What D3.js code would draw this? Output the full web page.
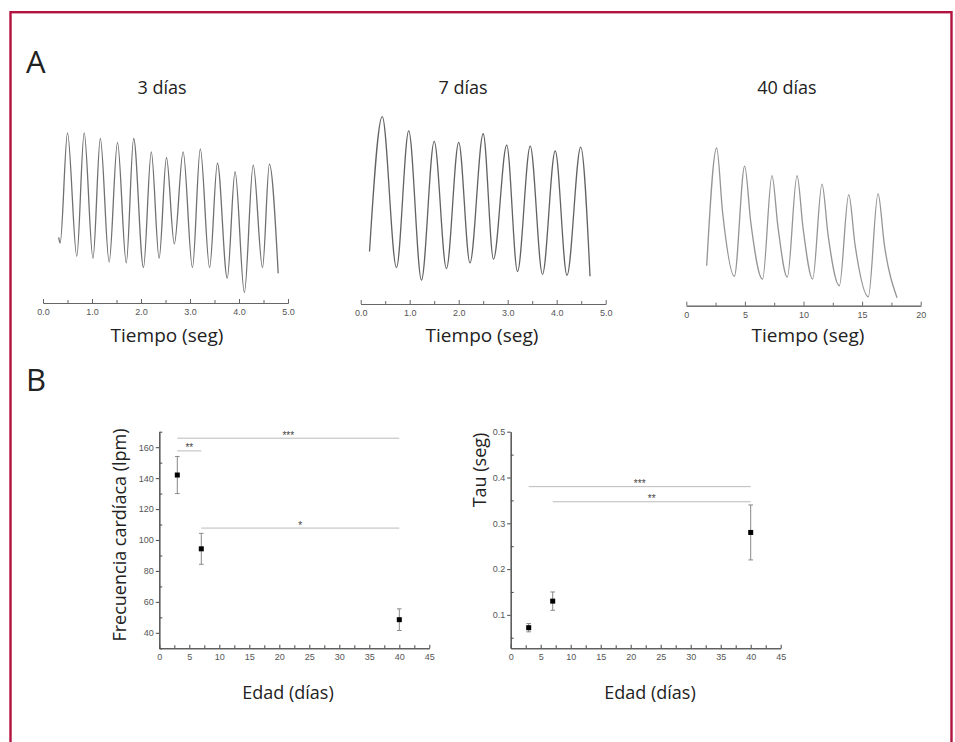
<!DOCTYPE html>
<html>
<head>
<meta charset="utf-8">
<script src="https://cdn.jsdelivr.net/npm/d3@7/dist/d3.min.js"></script>
<style>
  body { margin: 0; background: #fff; }
  svg text { font-family: 'Open Sans', sans-serif; }
  .tick text { font-family: 'Liberation Sans', Arial, sans-serif; }
</style>
</head>
<body>
<div id="chart"></div>
<script>
(function() {
  'use strict';

  // --- panel A: pressure traces (time in s, amplitude in arbitrary units) ---
  var traceTitles = ['3 días', '7 días', '40 días'];
  var traceTicks = [[0, 1, 2, 3, 4, 5], [0, 1, 2, 3, 4, 5], [0, 5, 10, 15, 20]];

  var time3 = [0.32, 0.35, 0.50, 0.69, 0.84, 1.02, 1.17, 1.35, 1.52, 1.70, 1.85, 2.05, 2.21, 2.37,
    2.52, 2.68, 2.86, 3.05, 3.21, 3.40, 3.56, 3.76, 3.92, 4.11, 4.29, 4.48, 4.62, 4.80];
  var amp3 = [33, 30, 88, 23, 88, 22, 85, 20, 83, 19.5, 85, 17, 78, 22,
    75, 29.5, 78, 17, 79.5, 17, 72, 11.5, 67.5, 4, 71, 17, 71.5, 14];

  var time7 = [0.18, 0.44, 0.73, 0.98, 1.24, 1.50, 1.75, 2.00, 2.23, 2.50, 2.71, 2.98, 3.20,
    3.46, 3.71, 3.97, 4.21, 4.49, 4.68];
  var amp7 = [25.5, 96.5, 17, 89, 10.5, 83.5, 16.5, 83, 19.5, 87.5, 21.5, 81.5, 15,
    81, 13.5, 78.5, 13, 80.5, 12.5];

  var time40 = [1.74, 2.59, 3.10, 4.10, 4.98, 5.50, 6.51, 7.31, 7.82, 8.62,
    9.45, 9.96, 10.78, 11.58, 12.10, 13.06, 13.86, 14.40, 15.53,
    16.36, 16.90, 17.98];
  var amp40 = [18, 80, 46, 12.5, 70.5, 41, 11, 65.5, 38.5, 12,
    65.5, 38, 11, 61, 34, 7.5, 55.5, 29, 1.7,
    56, 29, 1.2];

  // --- panel B: heart rate and tau by age ---
  var ages = [3, 7, 40];
  var freqMean = [142, 94.3, 48.5];
  var freqErr = [12, 10, 7];
  var tauMean = [0.072, 0.13, 0.28];
  var tauErr = [0.009, 0.02, 0.06];
  var ageTicks = [0, 5, 10, 15, 20, 25, 30, 35, 40, 45];
  var freqTicks = [40, 60, 80, 100, 120, 140, 160];
  var tauTicks = [0.1, 0.2, 0.3, 0.4, 0.5];

  // significance bars: from age, to age, level, label
  var freqSigFrom = [3, 3, 7];
  var freqSigTo = [40, 7, 40];
  var freqSigLevel = [165.8, 157.6, 107.7];
  var freqSigLabel = ['***', '**', '*'];
  var tauSigFrom = [3, 7];
  var tauSigTo = [40, 40];
  var tauSigLevel = [0.380, 0.347];
  var tauSigLabel = ['***', '**'];

  var width = 955, height = 742;

  var svg = d3.select('#chart')
    .append('svg')
    .attr('width', width)
    .attr('height', height);

  // frame
  svg.append('rect')
    .attr('x', 10.5)
    .attr('y', 12.2)
    .attr('width', 941)
    .attr('height', 780)
    .attr('fill', 'none')
    .attr('stroke', '#b3123e')
    .attr('stroke-width', 2.4);

  svg.append('text').attr('x', 26).attr('y', 72.7)
    .style('font-size', '31px').attr('fill', '#222').text('A');
  svg.append('text').attr('x', 26).attr('y', 391)
    .style('font-size', '31px').attr('fill', '#222').text('B');

  function midTicks(ticks) {
    var out = [];
    for (var i = 0; i < ticks.length - 1; i++) {
      out.push((ticks[i] + ticks[i + 1]) / 2);
    }
    return out;
  }

  // ---------- traces ----------
  var traceLayout = [
    {x0: 43, x1: 288, axisY: 303, titleX: 162, labelX: 167, color: '#707070', fmt: d3.format('.1f')},
    {x0: 360.7, x1: 605.7, axisY: 304, titleX: 463, labelX: 482, color: '#626262', fmt: d3.format('.1f')},
    {x0: 686.3, x1: 920.7, axisY: 305.7, titleX: 787, labelX: 808, color: '#959595', fmt: d3.format('d')}
  ];
  var traceData = [
    d3.zip(time3, amp3),
    d3.zip(time7, amp7),
    d3.zip(time40, amp40)
  ];

  var amp = d3.scaleLinear().domain([0, 100]).range([300, 110]);

  traceLayout.forEach(function(p, i) {
    var ticks = traceTicks[i];
    var x = d3.scaleLinear()
      .domain([ticks[0], ticks[ticks.length - 1]])
      .range([p.x0, p.x1]);

    var line = d3.line()
      .x(function(d) { return x(d[0]); })
      .y(function(d) { return amp(d[1]); })
      .curve(d3.curveMonotoneX);

    svg.append('path')
      .datum(traceData[i])
      .attr('fill', 'none')
      .attr('stroke', p.color)
      .attr('stroke-width', 1.3)
      .attr('d', line);

    var g = svg.append('g')
      .attr('transform', 'translate(0,' + p.axisY + ')');
    g.append('g')
      .call(d3.axisBottom(x).tickValues(midTicks(ticks)).tickSize(-3).tickSizeOuter(0).tickFormat(''));
    g.append('g')
      .call(d3.axisBottom(x).tickValues(ticks).tickSize(-4).tickSizeOuter(0).tickPadding(6).tickFormat(p.fmt));
    g.selectAll('path, line').attr('stroke', '#666');
    g.selectAll('text').attr('fill', '#555').style('font-size', '9px');

    svg.append('text')
      .attr('x', p.titleX)
      .attr('y', 94)
      .attr('text-anchor', 'middle')
      .attr('fill', '#222')
      .style('font-size', '18px')
      .text(traceTitles[i]);

    svg.append('text')
      .attr('x', p.labelX)
      .attr('y', 341.7)
      .attr('text-anchor', 'middle')
      .attr('fill', '#222')
      .style('font-size', '19px')
      .text('Tiempo (seg)');
  });

  // ---------- scatter panels ----------
  var scatterLayout = [
    {x0: 159.3, x1: 429.3, y0: 648.3, y1: 431.7, domain: [30, 170], ticks: freqTicks,
      fmt: d3.format('d'), title: 'Frecuencia cardíaca (lpm)', titleX: 126, titleY: 535, xLabelX: 288,
      mean: freqMean, err: freqErr, sigFrom: freqSigFrom, sigTo: freqSigTo, sigLevel: freqSigLevel, sigLabel: freqSigLabel},
    {x0: 510.7, x1: 780.7, y0: 648.3, y1: 431.7, domain: [0.027, 0.5], ticks: tauTicks,
      fmt: d3.format('.1f'), title: 'Tau (seg)', titleX: 486, titleY: 470, xLabelX: 650,
      mean: tauMean, err: tauErr, sigFrom: tauSigFrom, sigTo: tauSigTo, sigLevel: tauSigLevel, sigLabel: tauSigLabel}
  ];

  scatterLayout.forEach(function(p) {
    var x = d3.scaleLinear().domain([0, 45]).range([p.x0, p.x1]);
    var y = d3.scaleLinear().domain(p.domain).range([p.y0, p.y1]);

    var step = p.ticks[1] - p.ticks[0];
    var yMinor = d3.range(p.ticks[0] - step / 2, p.domain[1] + 1e-9, step)
      .filter(function(v) { return v >= p.domain[0]; });

    var gx = svg.append('g').attr('transform', 'translate(0,' + p.y0 + ')');
    gx.append('g')
      .call(d3.axisBottom(x).tickValues(midTicks(ageTicks)).tickSize(-3).tickSizeOuter(0).tickFormat(''));
    gx.append('g')
      .call(d3.axisBottom(x).tickValues(ageTicks).tickSize(-3.5).tickSizeOuter(0).tickPadding(5));

    var gy = svg.append('g').attr('transform', 'translate(' + p.x0 + ',0)');
    gy.append('g')
      .call(d3.axisLeft(y).tickValues(yMinor).tickSize(-3).tickSizeOuter(0).tickFormat(''));
    gy.append('g')
      .call(d3.axisLeft(y).tickValues(p.ticks).tickSize(3.5).tickSizeOuter(0).tickPadding(2).tickFormat(p.fmt));

    [gx, gy].forEach(function(g) {
      g.selectAll('path, line').attr('stroke', '#555').attr('stroke-width', 1.1);
      g.selectAll('text').attr('fill', '#555').style('font-size', '9px');
    });

    // significance bars
    p.sigLevel.forEach(function(lv, k) {
      svg.append('line')
        .attr('x1', x(p.sigFrom[k]))
        .attr('x2', x(p.sigTo[k]))
        .attr('y1', y(lv))
        .attr('y2', y(lv))
        .attr('stroke', '#bbb')
        .attr('stroke-width', 1);
      svg.append('text')
        .attr('x', x((p.sigFrom[k] + p.sigTo[k]) / 2))
        .attr('y', y(lv) + 0.5)
        .attr('text-anchor', 'middle')
        .attr('fill', '#444')
        .style('font-family', "'Liberation Sans', Arial, sans-serif")
        .style('font-size', '10px')
        .text(p.sigLabel[k]);
    });

    // error bars
    var eb = svg.append('g').attr('stroke', '#888').attr('stroke-width', 1);
    ages.forEach(function(a, k) {
      var cx = x(a), top = y(p.mean[k] + p.err[k]), bot = y(p.mean[k] - p.err[k]);
      eb.append('line').attr('x1', cx).attr('x2', cx).attr('y1', top).attr('y2', bot);
      eb.append('line').attr('x1', cx - 2.3).attr('x2', cx + 2.3).attr('y1', top).attr('y2', top);
      eb.append('line').attr('x1', cx - 2.3).attr('x2', cx + 2.3).attr('y1', bot).attr('y2', bot);
    });

    svg.selectAll(null)
      .data(ages)
      .enter()
      .append('rect')
      .attr('x', function(d) { return x(d) - 2.5; })
      .attr('y', function(d, k) { return y(p.mean[k]) - 2.5; })
      .attr('width', 5)
      .attr('height', 5)
      .attr('fill', '#000');

    svg.append('text')
      .attr('x', p.xLabelX)
      .attr('y', 699)
      .attr('text-anchor', 'middle')
      .attr('fill', '#222')
      .style('font-size', '18px')
      .text('Edad (días)');

    svg.append('text')
      .attr('transform', 'translate(' + p.titleX + ',' + p.titleY + ') rotate(-90)')
      .attr('text-anchor', 'middle')
      .attr('fill', '#222')
      .style('font-size', '18px')
      .text(p.title);
  });
})();
</script>
</body>
</html>
